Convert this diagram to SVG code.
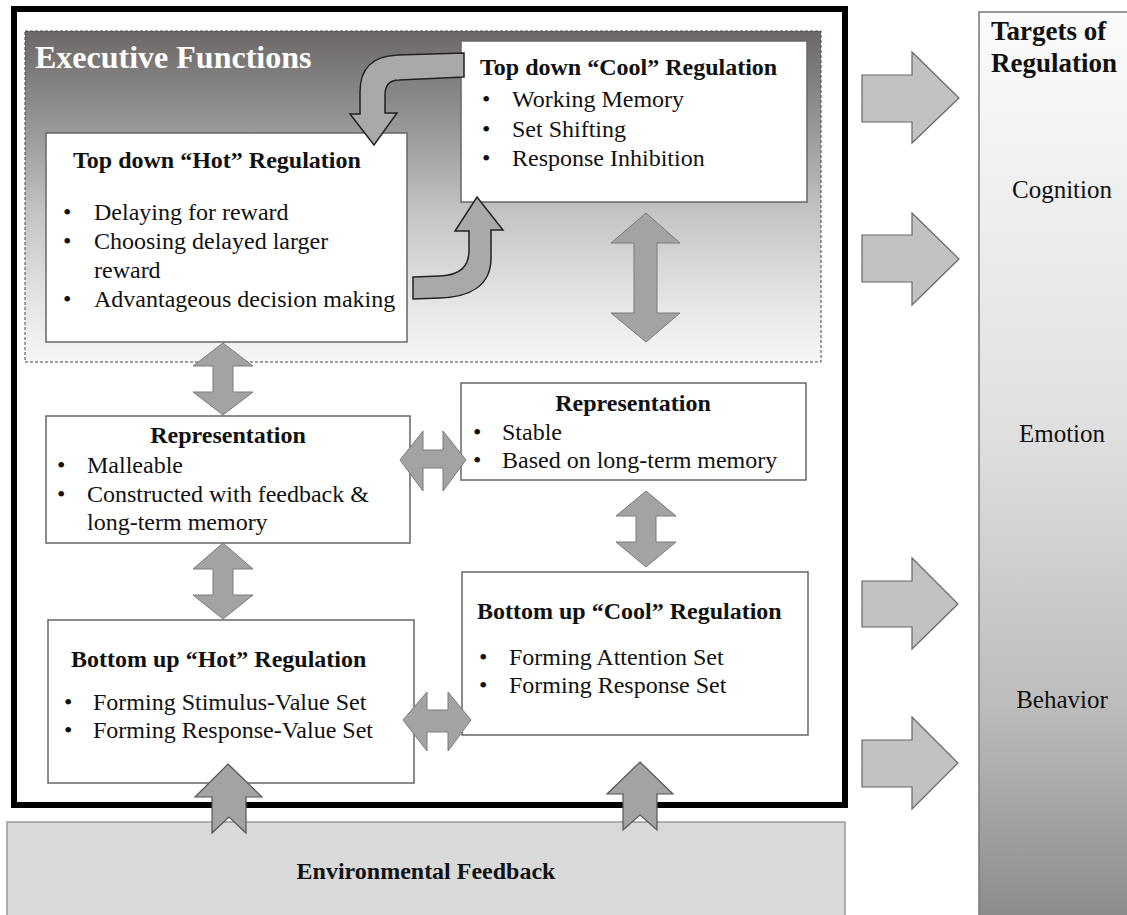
<svg xmlns="http://www.w3.org/2000/svg" width="1127" height="915" viewBox="0 0 1127 915">
<defs>
<linearGradient id="gExec" x1="0" y1="0" x2="0" y2="1">
<stop offset="0" stop-color="#6c6868"/>
<stop offset="0.3" stop-color="#9a9898"/>
<stop offset="0.55" stop-color="#c4c4c4"/>
<stop offset="0.8" stop-color="#e3e3e3"/>
<stop offset="1" stop-color="#f6f6f6"/>
</linearGradient>
<linearGradient id="gTarget" x1="0" y1="0" x2="0" y2="1">
<stop offset="0" stop-color="#fbfbfb"/>
<stop offset="0.45" stop-color="#e0e0e0"/>
<stop offset="0.75" stop-color="#bdbdbd"/>
<stop offset="1" stop-color="#888888"/>
</linearGradient>
<style>
.box{fill:#ffffff;stroke:#666666;stroke-width:1.5}
.t{font-family:'Liberation Serif','DejaVu Serif',serif;font-size:24px;font-weight:400;fill:#111111}
.b{font-weight:700}
.dbl{fill:#a3a3a3;stroke:#7a7a7a;stroke-width:1}
.up{fill:#a3a3a3;stroke:#555555;stroke-width:1.2}
.rt{fill:#c2c2c2;stroke:#666666;stroke-width:1.2}
.curve{fill:#a9a9a9;stroke:#222222;stroke-width:1.5}
</style>
</defs>
<rect width="1127" height="915" fill="#ffffff"/>

<g id="targets">
<rect x="979" y="12" width="160" height="920" fill="url(#gTarget)" stroke="#777777" stroke-width="1.5"/>
<text class="t b" x="991" y="40" style="font-size:27px">Targets of</text>
<text class="t b" x="991" y="72" style="font-size:27px">Regulation</text>
<text class="t" x="1062" y="198" text-anchor="middle" style="font-size:25px">Cognition</text>
<text class="t" x="1062" y="442" text-anchor="middle" style="font-size:25px">Emotion</text>
<text class="t" x="1062" y="708" text-anchor="middle" style="font-size:25px">Behavior</text>
</g>

<g id="environmental-feedback">
<rect x="7" y="822" width="838" height="110" fill="#d9d9d9" stroke="#999999" stroke-width="1.5"/>
<text class="t b" x="426" y="879" text-anchor="middle">Environmental Feedback</text>
</g>

<g id="system-frame">
<rect x="14" y="9" width="831" height="796" fill="#ffffff" stroke="#000000" stroke-width="6"/>
</g>

<g id="executive-functions">
<rect x="25" y="31" width="796" height="331" fill="url(#gExec)" stroke="#444444" stroke-width="1" stroke-dasharray="3,2"/>
<text class="t b" x="35" y="68" style="font-size:32px;fill:#ffffff">Executive Functions</text>
</g>

<g id="top-down-cool">
<rect class="box" x="461" y="41" width="346" height="161"/>
<text class="t b" x="480" y="75">Top down “Cool” Regulation</text>
<text class="t" x="482" y="107">•</text><text class="t" x="512" y="107">Working Memory</text>
<text class="t" x="482" y="137">•</text><text class="t" x="512" y="137">Set Shifting</text>
<text class="t" x="482" y="166">•</text><text class="t" x="512" y="166">Response Inhibition</text>
</g>

<g id="top-down-hot">
<rect class="box" x="46" y="133" width="361" height="209"/>
<text class="t b" x="73" y="168">Top down “Hot” Regulation</text>
<text class="t" x="63" y="220">•</text><text class="t" x="94" y="220">Delaying for reward</text>
<text class="t" x="63" y="249">•</text><text class="t" x="94" y="249">Choosing delayed larger</text>
<text class="t" x="94" y="278">reward</text>
<text class="t" x="63" y="307">•</text><text class="t" x="94" y="307">Advantageous decision making</text>
</g>

<g id="representation-malleable">
<rect class="box" x="46" y="416" width="364" height="127"/>
<text class="t b" x="228" y="443" text-anchor="middle">Representation</text>
<text class="t" x="57" y="473">•</text><text class="t" x="87" y="473">Malleable</text>
<text class="t" x="57" y="502">•</text><text class="t" x="87" y="502">Constructed with feedback &amp;</text>
<text class="t" x="87" y="530">long-term memory</text>
</g>

<g id="representation-stable">
<rect class="box" x="461" y="383" width="345" height="97"/>
<text class="t b" x="633" y="411" text-anchor="middle">Representation</text>
<text class="t" x="473" y="440">•</text><text class="t" x="502" y="440">Stable</text>
<text class="t" x="473" y="468">•</text><text class="t" x="502" y="468">Based on long-term memory</text>
</g>

<g id="bottom-up-hot">
<rect class="box" x="48" y="620" width="366" height="163"/>
<text class="t b" x="71" y="667">Bottom up “Hot” Regulation</text>
<text class="t" x="64" y="710">•</text><text class="t" x="93" y="710">Forming Stimulus-Value Set</text>
<text class="t" x="64" y="738">•</text><text class="t" x="93" y="738">Forming Response-Value Set</text>
</g>

<g id="bottom-up-cool">
<rect class="box" x="462" y="572" width="346" height="163"/>
<text class="t b" x="477" y="619">Bottom up “Cool” Regulation</text>
<text class="t" x="479" y="665">•</text><text class="t" x="509" y="665">Forming Attention Set</text>
<text class="t" x="479" y="693">•</text><text class="t" x="509" y="693">Forming Response Set</text>
</g>

<g id="connectors">
<path class="curve" d="M464,53 L398,55 C372,56 360,68 360,92 L360,114 L350,114 L374,145 L397,113 L385,113 L385,95 C385,86 389,80 399,80 L464,77 Z"/>
<path class="curve" d="M413,277 L440,276 C461,275 469,266 469,250 L469,231 L455,231 L477,197 L503,230 L491,230 L491,258 C491,285 471,297 440,298 L413,299 Z"/>
<polygon class="dbl" points="646,213 680,243 657,243 657,313 680,313 646,342 611,313 634,313 634,243 611,243"/>
<polygon class="dbl" points="223,343 253,366 233,366 233,392 253,392 223,415 193,392 213,392 213,366 193,366"/>
<polygon class="dbl" points="223,543 253,569 233,569 233,595 253,595 223,619 193,595 213,595 213,569 193,569"/>
<polygon class="dbl" points="646,491 676,516 656,516 656,542 676,542 646,567 616,542 636,542 636,516 616,516"/>
<polygon class="dbl" points="400,460 423,431 423,450 443,450 443,431 466,460 443,491 443,468 423,468 423,491"/>
<polygon class="dbl" points="403,720 427,692 427,710 448,710 448,692 471,720 448,751 448,732 427,732 427,751"/>
<polygon class="up" points="228,764 262,797 246,797 246,833 229,817 212,833 212,797 195,797"/>
<polygon class="up" points="640,762 673,794 657,794 657,830 640,815 623,830 623,794 607,794"/>
<polygon class="rt" points="862,75 912,75 912,52 959,98 912,143 912,122 862,122"/>
<polygon class="rt" points="862,235 912,235 912,213 959,259 912,305 912,282 862,282"/>
<polygon class="rt" points="862,581 912,581 912,558 958,604 912,649 912,627 862,627"/>
<polygon class="rt" points="862,740 912,740 912,717 958,763 912,809 912,787 862,787"/>
</g>
</svg>
